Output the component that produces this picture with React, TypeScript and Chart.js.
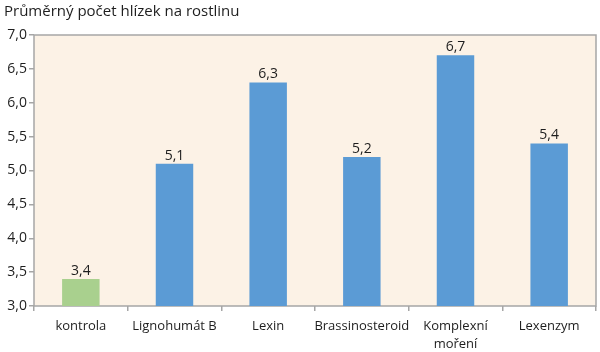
import React, { useEffect, useRef } from "react";
import { Chart, registerables } from "chart.js";

Chart.register(...registerables);

const titleText = "Průměrný počet hlízek na rostlinu";
const categories: (string | string[])[] = [
  "kontrola",
  "Lignohumát B",
  "Lexin",
  "Brassinosteroid",
  ["Komplexní", "moření"],
  "Lexenzym",
];
const values = [3.4, 5.1, 6.3, 5.2, 6.7, 5.4];
const barColors = ["#A9D08E", "#5B9BD5", "#5B9BD5", "#5B9BD5", "#5B9BD5", "#5B9BD5"];
const yMin = 3;
const yMax = 7;
const yStep = 0.5;

const FONT = "'Open Sans', 'Noto Sans', sans-serif";
const fmt = (v: number) => v.toFixed(1).replace(".", ",");

const framePlugin = {
  id: "frame",
  beforeDatasetsDraw(chart: any) {
    const { ctx, chartArea } = chart;
    ctx.save();
    ctx.fillStyle = "#FCF2E6";
    ctx.fillRect(chartArea.left, chartArea.top, chartArea.right - chartArea.left, chartArea.bottom - chartArea.top);
    ctx.strokeStyle = "#A6A6A6";
    ctx.lineWidth = 1.5;
    ctx.strokeRect(chartArea.left, chartArea.top, chartArea.right - chartArea.left, chartArea.bottom - chartArea.top);
    ctx.restore();
  },
  afterDatasetsDraw(chart: any) {
    const { ctx } = chart;
    const meta = chart.getDatasetMeta(0);
    ctx.save();
    ctx.fillStyle = "#1e1e1e";
    ctx.font = `14px ${FONT}`;
    ctx.textAlign = "center";
    ctx.textBaseline = "bottom";
    meta.data.forEach((bar: any, i: number) => {
      ctx.fillText(fmt(values[i]), bar.x, bar.y - 1);
    });
    ctx.font = `15px ${FONT}`;
    ctx.textAlign = "left";
    ctx.textBaseline = "alphabetic";
    ctx.fillText(titleText, 4, 16);
    ctx.restore();
  },
};

export default function App() {
  const ref = useRef<HTMLCanvasElement>(null);
  useEffect(() => {
    const chart = new Chart(ref.current!, {
      type: "bar",
      data: {
        labels: categories,
        datasets: [
          {
            data: values,
            backgroundColor: barColors,
            borderWidth: 0,
            barPercentage: 0.4,
            categoryPercentage: 1,
          },
        ],
      },
      options: {
        animation: false,
        responsive: false,
        maintainAspectRatio: false,
        layout: { padding: { left: 0, right: 4, top: 35, bottom: 0 } },
        plugins: {
          legend: { display: false },
          tooltip: { enabled: false },
          title: { display: false },
        },
        scales: {
          x: {
            grid: {
              display: true,
              drawOnChartArea: false,
              offset: true,
              tickLength: 5,
              color: "#A6A6A6",
              lineWidth: 1.5,
            },
            border: { display: false },
            ticks: {
              color: "#1e1e1e",
              font: { family: FONT, size: 13, lineHeight: 1.35 },
              padding: 7,
              maxRotation: 0,
              autoSkip: false,
            },
            afterFit(scale: any) {
              scale.height = 46;
            },
          },
          y: {
            min: yMin,
            max: yMax,
            grid: {
              display: true,
              drawOnChartArea: false,
              tickLength: 5,
              color: "#A6A6A6",
              lineWidth: 1.5,
            },
            border: { display: false },
            ticks: {
              stepSize: yStep,
              color: "#1e1e1e",
              font: { family: FONT, size: 14 },
              padding: 2,
              callback: (v: any) => fmt(Number(v)),
            },
            afterFit(scale: any) {
              scale.width = 34;
            },
          },
        },
      },
      plugins: [framePlugin],
    });
    return () => chart.destroy();
  }, []);
  return (
    <div style={{ position: "absolute", left: 0, top: 0, width: 600, height: 352, background: "#fff" }}>
      <canvas ref={ref} width={600} height={352} style={{ width: 600, height: 352 }} />
    </div>
  );
}
